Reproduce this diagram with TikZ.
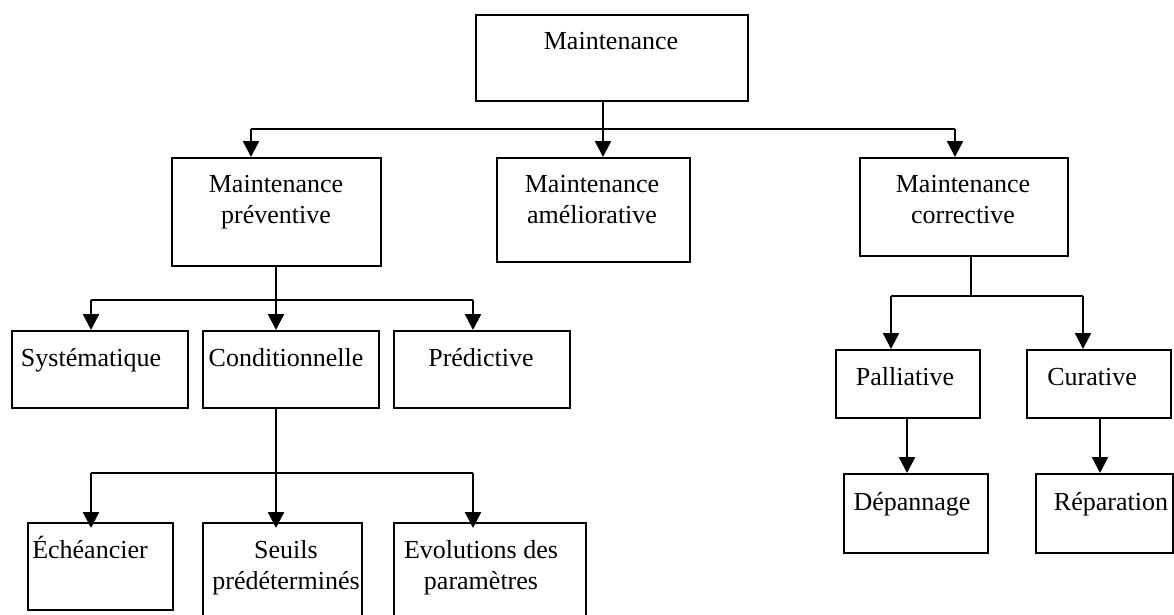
\documentclass[tikz,border=0pt]{standalone}
\usepackage{fontspec}
\setmainfont{Liberation Serif}
\usetikzlibrary{arrows.meta}
\tikzset{
  box/.style={draw, line width=2.2pt, inner sep=0pt, anchor=north west},
  txt/.style={font=\fontsize{26}{31}\selectfont, inner sep=0pt, align=center, anchor=base},
  conn/.style={line width=2.4pt},
  arr/.style={line width=2.4pt, -{Triangle[width=16pt,length=16pt]}}
}
\begin{document}
\begin{tikzpicture}[x=1pt,y=-1pt]
\clip (0,0) rectangle (1174,615);
\fill[white] (0,0) rectangle (1174,615);
% boxes
\node[box, minimum width=272pt, minimum height=86pt] (top) at (475,14) {};
\node[box, minimum width=209pt, minimum height=108pt] (prev) at (171,157) {};
\node[box, minimum width=193pt, minimum height=104pt] (amel) at (496,157) {};
\node[box, minimum width=208pt, minimum height=98pt] (corr) at (859,157) {};
\node[box, minimum width=176pt, minimum height=77pt] (sys) at (11,330) {};
\node[box, minimum width=176pt, minimum height=77pt] (cond) at (202,330) {};
\node[box, minimum width=176pt, minimum height=77pt] (pred) at (393,330) {};
\node[box, minimum width=145pt, minimum height=87pt] (ech) at (27,522) {};
\node[box, minimum width=159pt, minimum height=110pt] (seu) at (202,522) {};
\node[box, minimum width=192pt, minimum height=110pt] (evo) at (393,522) {};
\node[box, minimum width=144pt, minimum height=68pt] (pal) at (835,349) {};
\node[box, minimum width=144pt, minimum height=68pt] (cur) at (1026,349) {};
\node[box, minimum width=144pt, minimum height=79pt] (dep) at (843,473) {};
\node[box, minimum width=137pt, minimum height=79pt] (rep) at (1035,473) {};
% texts (multi-line nodes: base = last line)
\node[txt] (ttop) at (611,50) {Maintenance};
\node[txt] (tprev) at (276,223) {Maintenance\\préventive};
\node[txt] (tamel) at (592,223) {Maintenance\\améliorative};
\node[txt] (tcorr) at (963,223) {Maintenance\\corrective};
\node[txt] (tsys) at (91,366) {Systématique};
\node[txt] (tcond) at (286,366) {Conditionnelle};
\node[txt] (tpred) at (481,366) {Prédictive};
\node[txt] (tech) at (90,558) {Échéancier};
\node[txt] (tseu) at (286,589) {Seuils\\prédéterminés};
\node[txt] (tevo) at (481,589) {Evolutions des\\paramètres};
\node[txt] (tpal) at (905,385) {Palliative};
\node[txt] (tcur) at (1092,385) {Curative};
\node[txt] (tdep) at (912,510) {Dépannage};
\node[txt] (trep) at (1111,510) {Réparation};
% junction coordinates
\coordinate (j1) at (603,129);
\coordinate (j1l) at (251,129);
\coordinate (j1r) at (955,129);
\coordinate (j2) at (276,300);
\coordinate (j2l) at (91,300);
\coordinate (j2r) at (473,300);
\coordinate (j3) at (276,473);
\coordinate (j3l) at (91,473);
\coordinate (j3r) at (473,473);
\coordinate (j4) at (971,296);
\coordinate (j4l) at (891,296);
\coordinate (j4r) at (1083,296);
% level 1
\draw[conn] (top.south -| j1) -- (j1);
\draw[conn] (j1l) -- (j1r);
\draw[arr] (j1l) -- (j1l |- prev.north);
\draw[arr] (j1) -- (j1 |- amel.north);
\draw[arr] (j1r) -- (j1r |- corr.north);
% preventive
\draw[conn] (prev.south -| j2) -- (j2);
\draw[conn] (j2l) -- (j2r);
\draw[arr] (j2l) -- (j2l |- sys.north);
\draw[arr] (j2) -- (j2 |- cond.north);
\draw[arr] (j2r) -- (j2r |- pred.north);
% conditionnelle
\draw[conn] (cond.south -| j3) -- (j3);
\draw[conn] (j3l) -- (j3r);
\draw[arr] (j3l) -- ([yshift=-6pt]j3l |- ech.north);
\draw[arr] (j3) -- ([yshift=-6pt]j3 |- seu.north);
\draw[arr] (j3r) -- ([yshift=-6pt]j3r |- evo.north);
% corrective
\draw[conn] (corr.south -| j4) -- (j4);
\draw[conn] (j4l) -- (j4r);
\draw[arr] (j4l) -- (j4l |- pal.north);
\draw[arr] (j4r) -- (j4r |- cur.north);
\draw[arr] (pal.south -| 907,0) -- (dep.north -| 907,0);
\draw[arr] (cur.south -| 1100,0) -- (rep.north -| 1100,0);
\end{tikzpicture}
\end{document}
